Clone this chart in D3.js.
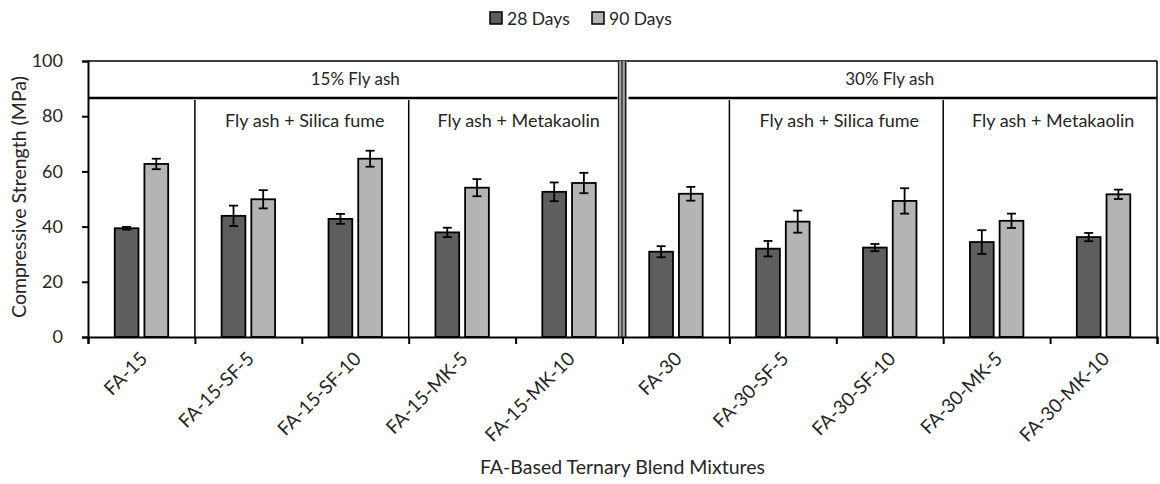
<!DOCTYPE html>
<html>
<head>
<meta charset="utf-8">
<script src="https://cdn.jsdelivr.net/npm/d3@7"></script>
<style>
  body { margin: 0; background: #fff; }
  text { font-family: Lato, "Open Sans", sans-serif; fill: #262626; }
</style>
</head>
<body>
<div id="chart"></div>
<script>
// data
var categories = ["FA-15", "FA-15-SF-5", "FA-15-SF-10", "FA-15-MK-5", "FA-15-MK-10",
                  "FA-30", "FA-30-SF-5", "FA-30-SF-10", "FA-30-MK-5", "FA-30-MK-10"];
var seriesNames = ["28 Days", "90 Days"];
var days28 = [39.4, 43.9, 42.8, 37.9, 52.6, 30.9, 32.0, 32.4, 34.4, 36.2];
var days90 = [62.7, 49.9, 64.6, 54.1, 55.8, 51.9, 41.8, 49.3, 42.1, 51.7];
var err28 = [0.5, 3.7, 1.8, 1.7, 3.4, 2.0, 2.8, 1.3, 4.3, 1.5];
var err90 = [1.9, 3.3, 2.9, 3.1, 3.7, 2.5, 4.0, 4.6, 2.6, 1.7];
var yTicks = [0, 20, 40, 60, 80, 100];
// header groups: [label, first category, last category]
var mainGroups = [["15% Fly ash", 0, 4], ["30% Fly ash", 5, 9]];
var subGroups = [["Fly ash + Silica fume", 1, 2], ["Fly ash + Metakaolin", 3, 4],
                 ["Fly ash + Silica fume", 6, 7], ["Fly ash + Metakaolin", 8, 9]];
var subBreaks = [1, 3, 6, 8];

var colors = {"28 Days": "#5e5e5e", "90 Days": "#b4b4b4"};

var width = 1160, height = 484;
var pLeft = 88, pRight = 1157, pTop = 61, pBottom = 337;

var svg = d3.select("#chart")
  .append("svg")
    .attr("width", width)
    .attr("height", height);

var x = d3.scaleBand()
  .domain(categories)
  .range([pLeft, pRight])
  .padding(0);
var bw = x.bandwidth();

var xSub = d3.scaleBand()
  .domain(seriesNames)
  .range([bw * 0.25, bw * 0.75])
  .paddingInner(0.2);

var y = d3.scaleLinear()
  .domain([0, 100])
  .range([pBottom, pTop]);

var rows = categories.map(function(c, i) {
  return {cat: c, vals: [
    {s: "28 Days", v: days28[i], e: err28[i]},
    {s: "90 Days", v: days90[i], e: err90[i]}
  ]};
});

// Y axis
var yAxis = svg.append("g")
  .attr("transform", "translate(" + pLeft + ",0)")
  .call(d3.axisLeft(y).tickValues(yTicks).tickSize(6).tickPadding(19));
yAxis.selectAll("text").style("font-size", "18px").style("font-family", "Lato, sans-serif").attr("fill", "#262626");
yAxis.select(".domain").attr("stroke", "#000").attr("stroke-width", 2);
yAxis.selectAll(".tick line").attr("stroke", "#000").attr("stroke-width", 2);

// frame: top and right
svg.append("line").attr("x1", pLeft).attr("x2", pRight).attr("y1", pTop).attr("y2", pTop)
  .attr("stroke", "#000").attr("stroke-width", 1.5);
svg.append("line").attr("x1", pRight).attr("x2", pRight).attr("y1", pTop).attr("y2", pBottom)
  .attr("stroke", "#000").attr("stroke-width", 1.5);

// header line under main group labels
var hy = y(86.6);
var midX = x(categories[5]);
svg.append("line").attr("x1", pLeft).attr("x2", midX - 5).attr("y1", hy).attr("y2", hy)
  .attr("stroke", "#000").attr("stroke-width", 2.5);
svg.append("line").attr("x1", midX + 6).attr("x2", pRight).attr("y1", hy).attr("y2", hy)
  .attr("stroke", "#000").attr("stroke-width", 2.5);

// sub group separators
svg.selectAll(".sep")
  .data(subBreaks)
  .enter()
  .append("line")
    .attr("x1", function(d) { return x(categories[d]); })
    .attr("x2", function(d) { return x(categories[d]); })
    .attr("y1", hy + 2)
    .attr("y2", pBottom)
    .attr("stroke", "#000")
    .attr("stroke-width", 1.5);

// double divider in the middle
svg.append("rect")
  .attr("x", midX - 4.5).attr("y", pTop).attr("width", 9).attr("height", pBottom - pTop)
  .attr("fill", "#a6a6a6");
[-4, -0.5, 3].forEach(function(o) {
  svg.append("line").attr("x1", midX + o).attr("x2", midX + o).attr("y1", pTop).attr("y2", pBottom)
    .attr("stroke", "#222").attr("stroke-width", 1.3);
});

// main group labels
svg.selectAll(".mg")
  .data(mainGroups)
  .enter()
  .append("text")
    .attr("x", function(d) { return (x(categories[d[1]]) + x(categories[d[2]]) + bw) / 2; })
    .attr("y", (pTop + hy) / 2 + 6)
    .attr("text-anchor", "middle")
    .style("font-size", "17px")
    .text(function(d) { return d[0]; });

// sub group labels
svg.selectAll(".sg")
  .data(subGroups)
  .enter()
  .append("text")
    .attr("x", function(d) { return (x(categories[d[1]]) + x(categories[d[2]]) + bw) / 2 + 3; })
    .attr("y", hy + 29)
    .attr("text-anchor", "middle")
    .style("font-size", "18px")
    .text(function(d) { return d[0]; });

// bars
var groups = svg.selectAll(".cat")
  .data(rows)
  .enter()
  .append("g")
    .attr("transform", function(d) { return "translate(" + x(d.cat) + ",0)"; });

groups.selectAll("rect")
  .data(function(d) { return d.vals; })
  .enter()
  .append("rect")
    .attr("x", function(d) { return xSub(d.s); })
    .attr("y", function(d) { return y(d.v); })
    .attr("width", xSub.bandwidth())
    .attr("height", function(d) { return pBottom - y(d.v); })
    .attr("fill", function(d) { return colors[d.s]; })
    .attr("stroke", "#000")
    .attr("stroke-width", 1.8);

// error bars
var eb = groups.selectAll(".err")
  .data(function(d) { return d.vals; })
  .enter()
  .append("g")
    .attr("transform", function(d) { return "translate(" + (xSub(d.s) + xSub.bandwidth() / 2) + ",0)"; });
eb.append("line")
  .attr("x1", 0).attr("x2", 0)
  .attr("y1", function(d) { return y(d.v + d.e); })
  .attr("y2", function(d) { return y(d.v - d.e); })
  .attr("stroke", "#000").attr("stroke-width", 1.8);
eb.append("line")
  .attr("x1", -4.5).attr("x2", 4.5)
  .attr("y1", function(d) { return y(d.v + d.e); })
  .attr("y2", function(d) { return y(d.v + d.e); })
  .attr("stroke", "#000").attr("stroke-width", 1.8);
eb.append("line")
  .attr("x1", -4.5).attr("x2", 4.5)
  .attr("y1", function(d) { return y(d.v - d.e); })
  .attr("y2", function(d) { return y(d.v - d.e); })
  .attr("stroke", "#000").attr("stroke-width", 1.8);

// X axis (ticks at band edges)
var xEdge = d3.scaleLinear().domain([0, categories.length]).range([pLeft, pRight]);
var xAxis = svg.append("g")
  .attr("transform", "translate(0," + pBottom + ")")
  .call(d3.axisBottom(xEdge).tickValues(d3.range(categories.length + 1)).tickSize(7).tickFormat(""));
xAxis.select(".domain").attr("stroke", "#000").attr("stroke-width", 2);
xAxis.selectAll(".tick line").attr("stroke", "#000").attr("stroke-width", 2);

// category labels
svg.selectAll(".xl")
  .data(categories)
  .enter()
  .append("text")
    .attr("transform", function(d) {
      return "translate(" + (x(d) + bw / 2 + 7) + "," + (pBottom + 23) + ")rotate(-45)";
    })
    .attr("text-anchor", "end")
    .style("font-size", "19px")
    .text(function(d) { return d; });

// axis titles
svg.append("text")
  .attr("transform", "translate(26," + ((pTop + pBottom) / 2 - 2) + ")rotate(-90)")
  .attr("text-anchor", "middle")
  .style("font-size", "19.5px")
  .text("Compressive Strength (MPa)");

svg.append("text")
  .attr("x", (pLeft + pRight) / 2)
  .attr("y", 474)
  .attr("text-anchor", "middle")
  .style("font-size", "19.5px")
  .text("FA-Based Ternary Blend Mixtures");

// legend
var legX = [490, 592];
var leg = svg.selectAll(".leg")
  .data(seriesNames)
  .enter()
  .append("g")
    .attr("transform", function(d, i) { return "translate(" + legX[i] + ",12)"; });
leg.append("rect")
  .attr("width", 12).attr("height", 12)
  .attr("fill", function(d) { return colors[d]; })
  .attr("stroke", "#000").attr("stroke-width", 1.5);
leg.append("text")
  .attr("x", 17).attr("y", 12.5)
  .style("font-size", "17.5px")
  .text(function(d) { return d; });
</script>
</body>
</html>
